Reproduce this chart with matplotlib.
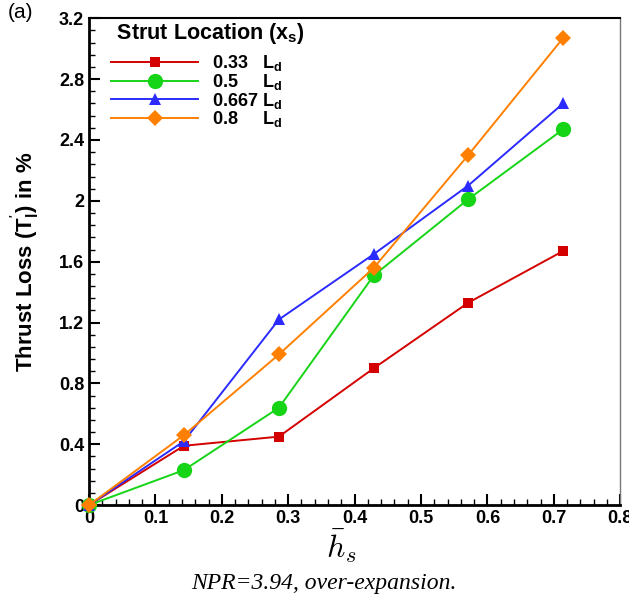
import matplotlib
matplotlib.use("Agg")
import matplotlib.pyplot as plt
from matplotlib.ticker import MultipleLocator

plt.rcParams['font.family'] = ['Liberation Sans', 'DejaVu Sans']
plt.rcParams['mathtext.fontset'] = 'custom'
plt.rcParams['mathtext.rm'] = 'Liberation Sans:bold'
plt.rcParams['mathtext.it'] = 'Liberation Sans:bold'
plt.rcParams['mathtext.bf'] = 'Liberation Sans:bold'

# strut height (normalised) and thrust loss for each strut location
h_s = [0.0, 0.143, 0.286, 0.429, 0.571, 0.714]
loss_033 = [0.0, 0.39, 0.45, 0.90, 1.33, 1.67]
loss_05 = [0.0, 0.23, 0.64, 1.51, 2.01, 2.47]
loss_0667 = [0.0, 0.42, 1.22, 1.65, 2.10, 2.64]
loss_08 = [0.0, 0.46, 0.99, 1.56, 2.30, 3.07]

labels = ['0.33   L$_d$', '0.5     L$_d$', '0.667 L$_d$', '0.8     L$_d$']
colors = ['#d40000', '#16d416', '#2b2bff', '#ff8000']
markers = ['s', 'o', '^', 'D']
msizes = [7.5, 11, 9, 8.5]

fig = plt.figure(figsize=(6.29, 6.10), dpi=100)
ax = fig.add_axes([0.1415, 0.172, 0.8445, 0.798])

for y, lab, c, m, ms in zip([loss_033, loss_05, loss_0667, loss_08],
                            labels, colors, markers, msizes):
    ax.plot(h_s, y, color=c, marker=m, markersize=ms, linewidth=1.4,
            markeredgewidth=0, label=lab, clip_on=False, zorder=3)

ax.set_xlim(0, 0.8)
ax.set_ylim(0, 3.2)
ax.xaxis.set_major_locator(MultipleLocator(0.1))
ax.xaxis.set_minor_locator(MultipleLocator(0.02))
ax.yaxis.set_major_locator(MultipleLocator(0.4))
ax.yaxis.set_minor_locator(MultipleLocator(0.08))
ax.xaxis.set_major_formatter(plt.FuncFormatter(lambda v, p: f'{v:g}'))
ax.yaxis.set_major_formatter(plt.FuncFormatter(lambda v, p: f'{v:g}'))

ax.tick_params(which='both', direction='in', top=False, right=False,
               width=1.5, labelsize=13)
ax.tick_params(which='major', length=8)
ax.tick_params(which='minor', length=4, width=1)
for t in ax.get_xticklabels() + ax.get_yticklabels():
    t.set_fontweight('bold')

ax.spines['left'].set_linewidth(2)
ax.spines['bottom'].set_linewidth(2)
ax.spines['top'].set_linewidth(1.5)
ax.spines['right'].set_linewidth(1)
ax.spines['right'].set_color('#777777')

ax.set_ylabel("Thrust Loss (T$_l^{'}$) in %", fontsize=16, fontweight='bold')
ax.yaxis.set_label_coords(-0.09, 0.5)
ax.set_xlabel(r'$\bar{h}_s$', fontsize=23, math_fontfamily='cm')
ax.xaxis.set_label_coords(0.475, -0.045)

leg = ax.legend(loc='upper left', bbox_to_anchor=(0.025, 1.012), frameon=False,
                title=' Strut Location (x$_s$)', handlelength=4.8,
                labelspacing=-0.08, handletextpad=0.75, borderaxespad=0.1,
                prop=dict(family='Liberation Sans', weight='bold', size=13))
leg.get_title().set_fontweight('bold')
leg.get_title().set_fontsize(15.5)
leg._legend_box.align = 'left'
leg._legend_box.sep = 5

fig.text(0.013, 0.98, '(a)', fontsize=15, va='center', ha='left')
fig.text(0.515, 0.044, 'NPR=3.94, over-expansion.', fontsize=17,
         family='Liberation Serif', style='italic', ha='center', va='center')

fig.savefig('out.png', dpi=100)
